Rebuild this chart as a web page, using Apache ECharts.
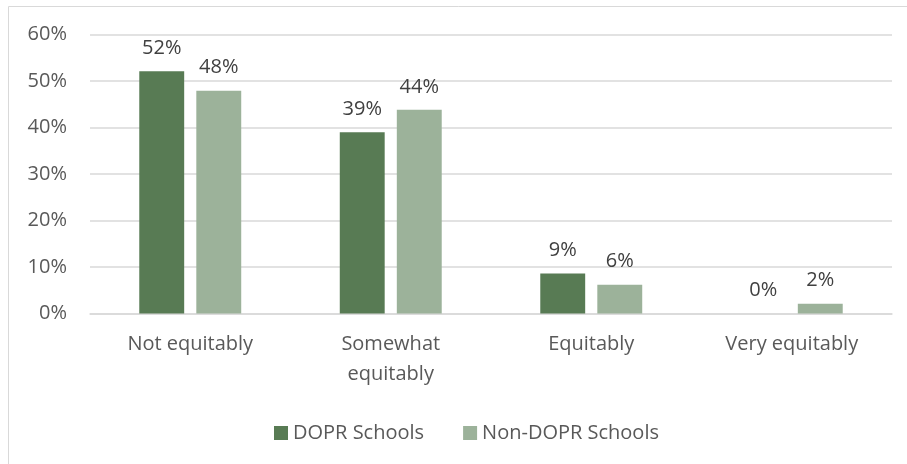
<!DOCTYPE html>
<html>
<head>
<meta charset="utf-8">
<script src="https://cdn.jsdelivr.net/npm/echarts@6/dist/echarts.min.js"></script>
<style>
  html, body { margin: 0; padding: 0; background: #fff; }
  #chart { width: 907px; height: 464px; }
</style>
</head>
<body>
<div id="chart"></div>
<script>
const categories = ['Not equitably', 'Somewhat\nequitably', 'Equitably', 'Very equitably'];
const doprValues = [52.1, 39.0, 8.6, 0];
const nonDoprValues = [47.9, 43.8, 6.2, 2.1];
const yTicks = [0, 10, 20, 30, 40, 50, 60];

const font = 'Open Sans';
const textColor = '#595959';

const chart = echarts.init(document.getElementById('chart'));

const labelFmt = p => Math.round(p.value) + '%';

chart.setOption({
  animation: false,
  textStyle: { fontFamily: font },
  graphic: [{
    type: 'rect',
    shape: { x: 8.5, y: 6.5, width: 920, height: 480 },
    style: { fill: 'none', stroke: '#d9d9d9', lineWidth: 1 },
    silent: true
  }],
  grid: { left: 90, right: 15, top: 34.5, bottom: 150.5 },
  legend: {
    left: 269,
    top: 418,
    itemWidth: 14,
    itemHeight: 14,
    itemGap: 39,
    icon: 'rect',
    textStyle: { fontFamily: font, fontSize: 20, color: textColor, padding: [0, 0, 0, 0] },
    data: ['DOPR Schools', 'Non-DOPR Schools']
  },
  xAxis: {
    type: 'category',
    data: categories,
    axisTick: { show: false },
    axisLine: { lineStyle: { color: '#d9d9d9', width: 1.5 } },
    axisLabel: { color: textColor, fontSize: 20, lineHeight: 30, margin: 16, interval: 0 }
  },
  yAxis: {
    type: 'value',
    min: 0,
    max: 60,
    interval: 10,
    axisLine: { show: false },
    axisTick: { show: false },
    splitLine: { lineStyle: { color: '#d9d9d9', width: 1.5 } },
    axisLabel: {
      color: textColor,
      fontSize: 20,
      margin: 23,
      formatter: v => (yTicks.includes(v) ? v + '%' : '')
    }
  },
  series: [
    {
      name: 'DOPR Schools',
      type: 'bar',
      data: doprValues,
      barWidth: '22.4%',
      barGap: '27%',
      itemStyle: { color: '#587b54' },
      label: { show: true, position: 'top', distance: 13, color: '#404040', fontSize: 20, formatter: labelFmt }
    },
    {
      name: 'Non-DOPR Schools',
      type: 'bar',
      data: nonDoprValues,
      barWidth: '22.4%',
      itemStyle: { color: '#9cb29a' },
      label: { show: true, position: 'top', distance: 13, color: '#404040', fontSize: 20, formatter: labelFmt }
    }
  ]
});
</script>
</body>
</html>
